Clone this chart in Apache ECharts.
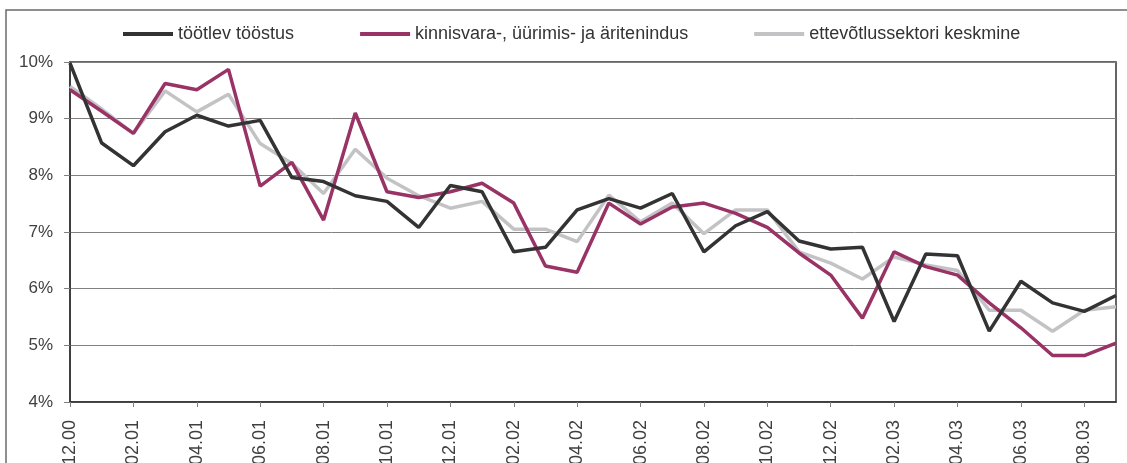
<!DOCTYPE html>
<html>
<head>
<meta charset="utf-8">
<script src="https://cdn.jsdelivr.net/npm/echarts@6/dist/echarts.min.js"></script>
<style>
  html, body { margin: 0; padding: 0; background: #fff; }
  #main { width: 1127px; height: 463px; }
</style>
</head>
<body>
<div id="main"></div>
<script>
// kuud 12.2000 - 09.2003
var months = ['12.00','01.01','02.01','03.01','04.01','05.01','06.01','07.01','08.01','09.01','10.01','11.01',
	'12.01','01.02','02.02','03.02','04.02','05.02','06.02','07.02','08.02','09.02','10.02','11.02',
	'12.02','01.03','02.03','03.03','04.03','05.03','06.03','07.03','08.03','09.03'];

var tootlev = [9.98, 8.57, 8.17, 8.77, 9.06, 8.87, 8.97, 7.96, 7.89, 7.64, 7.54, 7.08,
	7.82, 7.71, 6.65, 6.73, 7.39, 7.59, 7.42, 7.68, 6.65, 7.11, 7.36, 6.84,
	6.70, 6.73, 5.42, 6.61, 6.58, 5.25, 6.13, 5.75, 5.60, 5.88];

var kinnisvara = [9.51, 9.13, 8.74, 9.62, 9.51, 9.87, 7.81, 8.23, 7.21, 9.10, 7.71, 7.61,
	7.71, 7.86, 7.51, 6.40, 6.29, 7.51, 7.14, 7.44, 7.51, 7.33, 7.08, 6.63,
	6.24, 5.48, 6.65, 6.39, 6.24, 5.75, 5.31, 4.82, 4.82, 5.04];

var keskmine = [9.57, 9.17, 8.74, 9.49, 9.12, 9.43, 8.56, 8.21, 7.68, 8.46, 7.95, 7.64,
	7.42, 7.54, 7.05, 7.05, 6.83, 7.65, 7.18, 7.51, 6.97, 7.39, 7.39, 6.65,
	6.45, 6.17, 6.56, 6.42, 6.32, 5.62, 5.62, 5.25, 5.62, 5.68];

var yTicks = { min: 4, max: 10, step: 1 };

var myChart = echarts.init(document.getElementById('main'));
var font = 'Liberation Sans, Arial, sans-serif';

var option = {
	backgroundColor: '#ffffff',
	animation: false,
	graphic: [{
		type: 'rect',
		shape: { x: 6, y: 10, width: 1140, height: 470 },
		style: { fill: 'none', stroke: '#6b6b6b', lineWidth: 1.5 },
		silent: true
	}],
	legend: {
		left: 118,
		top: 20,
		itemWidth: 50,
		itemHeight: 4,
		itemGap: 66,
		icon: 'rect',
		textStyle: { fontFamily: font, fontSize: 18, color: '#333333' },
		data: ['töötlev tööstus', 'kinnisvara-, üürimis- ja äritenindus', 'ettevõtlussektori keskmine']
	},
	grid: {
		left: 70, right: 11, top: 62, bottom: 61,
		outerBoundsMode: 'none',
		show: true,
		borderColor: '#333333',
		borderWidth: 1.5
	},
	xAxis: {
		type: 'category',
		boundaryGap: false,
		data: months,
		axisLine: { lineStyle: { color: '#333333', width: 1.5 } },
		axisTick: { show: true, interval: 1, length: 5, lineStyle: { color: '#808080' } },
		axisLabel: {
			interval: 1,
			rotate: 90,
			margin: 18,
			fontFamily: font,
			fontSize: 18,
			color: '#404040'
		},
		splitLine: { show: false }
	},
	yAxis: {
		type: 'value',
		min: yTicks.min,
		max: yTicks.max,
		interval: yTicks.step,
		axisLine: { show: true, lineStyle: { color: '#333333', width: 1.5 } },
		axisTick: { show: true, length: 6, lineStyle: { color: '#808080' } },
		axisLabel: {
			formatter: '{value}%',
			margin: 17,
			fontFamily: font,
			fontSize: 17,
			color: '#404040'
		},
		splitLine: { show: true, lineStyle: { color: '#808080', width: 1 } }
	},
	series: [{
		name: 'töötlev tööstus',
		type: 'line',
		data: tootlev,
		symbol: 'none',
		z: 5,
		itemStyle: { color: '#333333' },
		lineStyle: { color: '#333333', width: 3.5 }
	}, {
		name: 'kinnisvara-, üürimis- ja äritenindus',
		type: 'line',
		data: kinnisvara,
		symbol: 'none',
		z: 4,
		itemStyle: { color: '#993366' },
		lineStyle: { color: '#993366', width: 3.5 }
	}, {
		name: 'ettevõtlussektori keskmine',
		type: 'line',
		data: keskmine,
		symbol: 'none',
		z: 3,
		itemStyle: { color: '#c3c3c6' },
		lineStyle: { color: '#c3c3c6', width: 3.5 }
	}]
};
myChart.setOption(option);
</script>
</body>
</html>
